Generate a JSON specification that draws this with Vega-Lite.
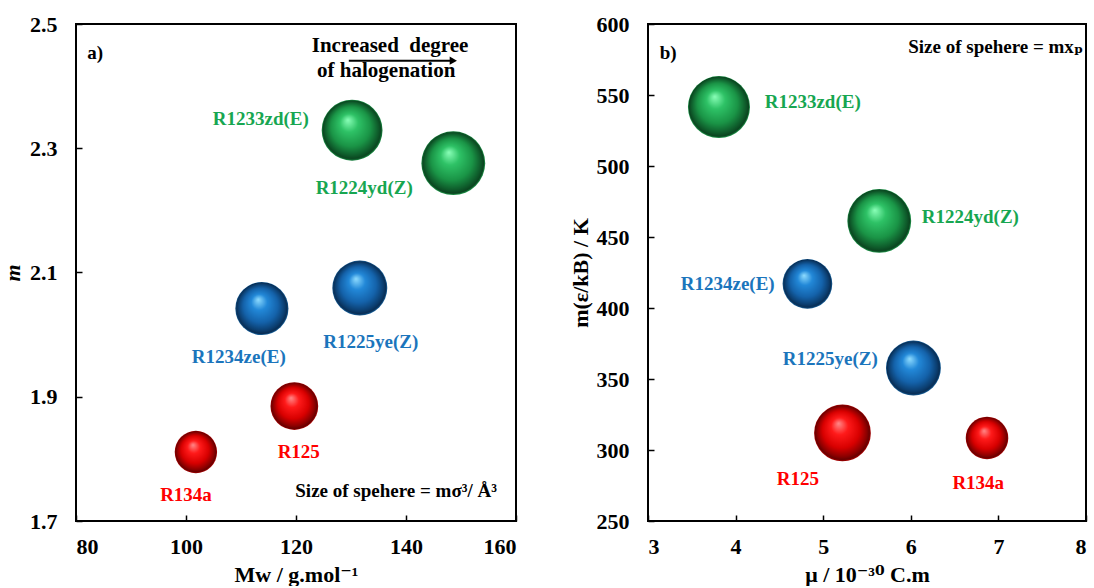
{
  "$schema": "https://vega.github.io/schema/vega-lite/v6.json",
  "padding": {"left": 0, "top": 12, "right": 0, "bottom": 0},
  "spacing": 50,
  "resolve": {"scale": {"size": "independent", "color": "independent"}},
  "config": {
    "font": "Liberation Serif",
    "view": {"stroke": "black", "strokeWidth": 2},
    "axis": {
      "labelFont": "Liberation Serif, DejaVu Serif", "labelFontWeight": "bold", "labelFontSize": 22, "labelColor": "black",
      "titleFont": "Liberation Serif, DejaVu Serif", "titleFontWeight": "bold", "titleFontSize": 22, "titleColor": "black",
      "tickColor": "black", "tickSize": -6, "tickWidth": 1.5, "domain": false, "grid": false
    },
    "axisY": {"labelPadding": 25, "titlePadding": 5},
    "axisX": {"labelPadding": 21, "titlePadding": 7}
  },
  "datasets": {
    "a": [
      {"name": "R134a", "group": "red", "Mw": 101.8, "m": 1.811, "sphere": 63, "lx": 100.0, "ly": 1.742},
      {"name": "R125", "group": "red", "Mw": 119.7, "m": 1.885, "sphere": 80, "lx": 120.5, "ly": 1.811},
      {"name": "R1234ze(E)", "group": "blue", "Mw": 113.8, "m": 2.042, "sphere": 99, "lx": 109.6, "ly": 1.964},
      {"name": "R1225ye(Z)", "group": "blue", "Mw": 131.6, "m": 2.075, "sphere": 106, "lx": 133.6, "ly": 1.988},
      {"name": "R1233zd(E)", "group": "green", "Mw": 130.2, "m": 2.329, "sphere": 130, "lx": 113.6, "ly": 2.347},
      {"name": "R1224yd(Z)", "group": "green", "Mw": 148.6, "m": 2.276, "sphere": 143, "lx": 132.4, "ly": 2.236}
    ],
    "b": [
      {"name": "R1233zd(E)", "group": "green", "mu": 3.81, "mek": 541.5, "sphere": 0.945, "lx": 4.88, "ly": 545},
      {"name": "R1224yd(Z)", "group": "green", "mu": 5.64, "mek": 461.3, "sphere": 1.0, "lx": 6.68, "ly": 464},
      {"name": "R1234ze(E)", "group": "blue", "mu": 4.82, "mek": 417, "sphere": 0.605, "lx": 3.91, "ly": 417},
      {"name": "R1225ye(Z)", "group": "blue", "mu": 6.03, "mek": 357.7, "sphere": 0.74, "lx": 5.08, "ly": 364},
      {"name": "R125", "group": "red", "mu": 5.22, "mek": 312, "sphere": 0.79, "lx": 4.71, "ly": 279.6},
      {"name": "R134a", "group": "red", "mu": 6.87, "mek": 308.5, "sphere": 0.445, "lx": 6.77, "ly": 276.8}
    ]
  },
  "hconcat": [
    {
      "width": 440,
      "height": 497,
      "layer": [
        {
          "data": {"name": "a"},
          "transform": [{"filter": "datum.group === 'red'"}],
          "mark": {"type": "circle", "opacity": 1, "fillOpacity": 1, "fill": {"gradient": "radial", "x1": 0.43, "y1": 0.33, "r1": 0, "x2": 0.5, "y2": 0.5, "r2": 0.5,
            "stops": [{"offset": 0, "color": "#ff8a8a"}, {"offset": 0.3, "color": "#ff1a1a"}, {"offset": 0.65, "color": "#d80000"}, {"offset": 0.88, "color": "#8a0000"}, {"offset": 0.96, "color": "#650000"}, {"offset": 1, "color": "#b80000"}]}},
          "encoding": {
            "x": {"field": "Mw", "type": "quantitative", "scale": {"domain": [80, 160]}, "axis": {"values": [80, 100, 120, 140, 160], "format": "d", "title": "Mw /  g.mol⁻¹"}},
            "y": {"field": "m", "type": "quantitative", "scale": {"domain": [1.7, 2.5]}, "axis": {"values": [1.7, 1.9, 2.1, 2.3, 2.5], "format": ".1f", "title": "m", "titleFontStyle": "italic"}},
            "size": {"field": "sphere", "type": "quantitative", "scale": {"domain": [0, 143], "range": [0, 4072], "zero": true}, "legend": null}
          }
        },
        {
          "data": {"name": "a"},
          "transform": [{"filter": "datum.group === 'blue'"}],
          "mark": {"type": "circle", "opacity": 1, "fillOpacity": 1, "fill": {"gradient": "radial", "x1": 0.43, "y1": 0.33, "r1": 0, "x2": 0.5, "y2": 0.5, "r2": 0.5,
            "stops": [{"offset": 0, "color": "#8fdcff"}, {"offset": 0.3, "color": "#2288d8"}, {"offset": 0.65, "color": "#1462aa"}, {"offset": 0.88, "color": "#0b3d6e"}, {"offset": 0.96, "color": "#082c52"}, {"offset": 1, "color": "#1a6aa8"}]}},
          "encoding": {
            "x": {"field": "Mw", "type": "quantitative"},
            "y": {"field": "m", "type": "quantitative"},
            "size": {"field": "sphere", "type": "quantitative", "legend": null}
          }
        },
        {
          "data": {"name": "a"},
          "transform": [{"filter": "datum.group === 'green'"}],
          "mark": {"type": "circle", "opacity": 1, "fillOpacity": 1, "fill": {"gradient": "radial", "x1": 0.43, "y1": 0.33, "r1": 0, "x2": 0.5, "y2": 0.5, "r2": 0.5,
            "stops": [{"offset": 0, "color": "#8affb8"}, {"offset": 0.3, "color": "#2ec266"}, {"offset": 0.65, "color": "#1a9446"}, {"offset": 0.88, "color": "#0e5a2a"}, {"offset": 0.96, "color": "#0a441f"}, {"offset": 1, "color": "#22a050"}]}},
          "encoding": {
            "x": {"field": "Mw", "type": "quantitative"},
            "y": {"field": "m", "type": "quantitative"},
            "size": {"field": "sphere", "type": "quantitative", "legend": null}
          }
        },
        {
          "data": {"name": "a"},
          "mark": {"type": "text", "font": "Liberation Serif", "fontWeight": "bold", "fontSize": 19, "baseline": "middle", "align": "center"},
          "encoding": {
            "x": {"field": "lx", "type": "quantitative"},
            "y": {"field": "ly", "type": "quantitative"},
            "text": {"field": "name"},
            "color": {"field": "group", "type": "nominal", "scale": {"domain": ["red", "blue", "green"], "range": ["#ff0000", "#1b75bc", "#17a651"]}, "legend": null}
          }
        },
        {
          "data": {"values": [
            {"t": "a)", "x": 83.5, "y": 2.453},
            {"t": "Size of spehere = mσ³/ Å³", "x": 138.2, "y": 1.748}
          ]},
          "mark": {"type": "text", "font": "Liberation Serif, DejaVu Serif", "fontWeight": "bold", "fontSize": 19, "baseline": "middle", "align": "center", "color": "black"},
          "encoding": {
            "x": {"field": "x", "type": "quantitative"},
            "y": {"field": "y", "type": "quantitative"},
            "text": {"field": "t"}
          }
        },
        {
          "data": {"values": [
            {"t": "Increased\u00a0\u00a0degree", "x": 137.1, "y": 2.465},
            {"t": "of halogenation", "x": 136.4, "y": 2.424}
          ]},
          "mark": {"type": "text", "font": "Liberation Serif", "fontWeight": "bold", "fontSize": 21, "baseline": "middle", "align": "center", "color": "black"},
          "encoding": {
            "x": {"field": "x", "type": "quantitative"},
            "y": {"field": "y", "type": "quantitative"},
            "text": {"field": "t"}
          }
        },
        {
          "data": {"values": [{"x1": 129.6, "x2": 148.5, "y": 2.441}]},
          "mark": {"type": "rule", "color": "black", "strokeWidth": 2},
          "encoding": {
            "x": {"field": "x1", "type": "quantitative"},
            "x2": {"field": "x2"},
            "y": {"field": "y", "type": "quantitative"}
          }
        },
        {
          "data": {"values": [{"x": 148.6, "y": 2.441}]},
          "mark": {"type": "point", "shape": "triangle-right", "filled": true, "color": "black", "opacity": 1, "size": 70},
          "encoding": {
            "x": {"field": "x", "type": "quantitative"},
            "y": {"field": "y", "type": "quantitative"}
          }
        }
      ]
    },
    {
      "width": 438,
      "height": 497,
      "layer": [
        {
          "data": {"name": "b"},
          "transform": [{"filter": "datum.group === 'red'"}],
          "mark": {"type": "circle", "opacity": 1, "fillOpacity": 1, "fill": {"gradient": "radial", "x1": 0.43, "y1": 0.33, "r1": 0, "x2": 0.5, "y2": 0.5, "r2": 0.5,
            "stops": [{"offset": 0, "color": "#ff8a8a"}, {"offset": 0.3, "color": "#ff1a1a"}, {"offset": 0.65, "color": "#d80000"}, {"offset": 0.88, "color": "#8a0000"}, {"offset": 0.96, "color": "#650000"}, {"offset": 1, "color": "#b80000"}]}},
          "encoding": {
            "x": {"field": "mu", "type": "quantitative", "scale": {"domain": [3, 8]}, "axis": {"values": [3, 4, 5, 6, 7, 8], "format": "d", "title": "μ /  10⁻³⁰ C.m"}},
            "y": {"field": "mek", "type": "quantitative", "scale": {"domain": [250, 600]}, "axis": {"values": [250, 300, 350, 400, 450, 500, 550, 600], "format": "d", "title": "m(ε/kB) / K", "titlePadding": 4}},
            "size": {"field": "sphere", "type": "quantitative", "scale": {"domain": [0, 1], "range": [0, 4072], "zero": true}, "legend": null}
          }
        },
        {
          "data": {"name": "b"},
          "transform": [{"filter": "datum.group === 'blue'"}],
          "mark": {"type": "circle", "opacity": 1, "fillOpacity": 1, "fill": {"gradient": "radial", "x1": 0.43, "y1": 0.33, "r1": 0, "x2": 0.5, "y2": 0.5, "r2": 0.5,
            "stops": [{"offset": 0, "color": "#8fdcff"}, {"offset": 0.3, "color": "#2288d8"}, {"offset": 0.65, "color": "#1462aa"}, {"offset": 0.88, "color": "#0b3d6e"}, {"offset": 0.96, "color": "#082c52"}, {"offset": 1, "color": "#1a6aa8"}]}},
          "encoding": {
            "x": {"field": "mu", "type": "quantitative"},
            "y": {"field": "mek", "type": "quantitative"},
            "size": {"field": "sphere", "type": "quantitative", "legend": null}
          }
        },
        {
          "data": {"name": "b"},
          "transform": [{"filter": "datum.group === 'green'"}],
          "mark": {"type": "circle", "opacity": 1, "fillOpacity": 1, "fill": {"gradient": "radial", "x1": 0.43, "y1": 0.33, "r1": 0, "x2": 0.5, "y2": 0.5, "r2": 0.5,
            "stops": [{"offset": 0, "color": "#8affb8"}, {"offset": 0.3, "color": "#2ec266"}, {"offset": 0.65, "color": "#1a9446"}, {"offset": 0.88, "color": "#0e5a2a"}, {"offset": 0.96, "color": "#0a441f"}, {"offset": 1, "color": "#22a050"}]}},
          "encoding": {
            "x": {"field": "mu", "type": "quantitative"},
            "y": {"field": "mek", "type": "quantitative"},
            "size": {"field": "sphere", "type": "quantitative", "legend": null}
          }
        },
        {
          "data": {"name": "b"},
          "mark": {"type": "text", "font": "Liberation Serif", "fontWeight": "bold", "fontSize": 19, "baseline": "middle", "align": "center"},
          "encoding": {
            "x": {"field": "lx", "type": "quantitative"},
            "y": {"field": "ly", "type": "quantitative"},
            "text": {"field": "name"},
            "color": {"field": "group", "type": "nominal", "scale": {"domain": ["red", "blue", "green"], "range": ["#ff0000", "#1b75bc", "#17a651"]}, "legend": null}
          }
        },
        {
          "data": {"values": [
            {"t": "b)", "x": 3.23, "y": 579.6},
            {"t": "Size of spehere = mxₚ", "x": 6.97, "y": 583.8}
          ]},
          "mark": {"type": "text", "font": "Liberation Serif, DejaVu Serif", "fontWeight": "bold", "fontSize": 19, "baseline": "middle", "align": "center", "color": "black"},
          "encoding": {
            "x": {"field": "x", "type": "quantitative"},
            "y": {"field": "y", "type": "quantitative"},
            "text": {"field": "t"}
          }
        }
      ]
    }
  ]
}
